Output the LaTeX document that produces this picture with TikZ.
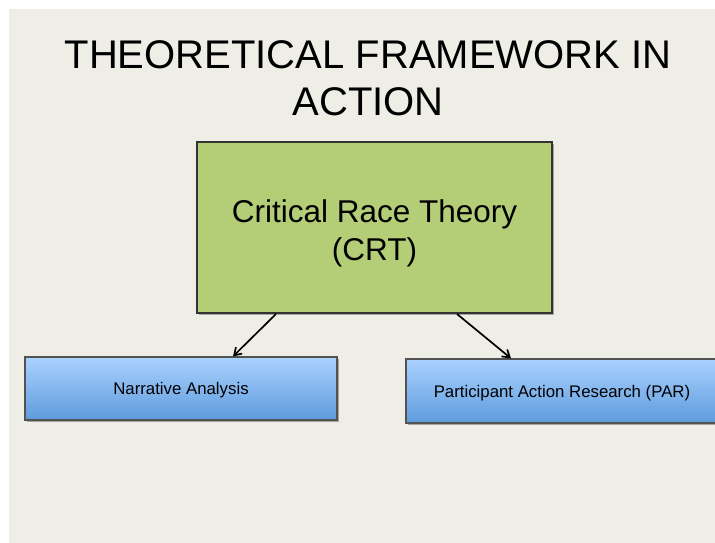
\documentclass[tikz,border=0pt]{standalone}
\usepackage{fontspec}
\setmainfont{Liberation Sans}
\usetikzlibrary{shadows,arrows.meta}
\definecolor{bgbeige}{HTML}{EFEEE6}
\definecolor{crtgreen}{HTML}{B4CE78}
\definecolor{bluetop}{HTML}{AAD2FF}
\definecolor{bluebot}{HTML}{5E9BDC}
\definecolor{edgegray}{HTML}{333333}
\tikzset{
  crtbox/.style={draw=edgegray, line width=2pt, fill=crtgreen, rectangle,
    minimum width=355pt, minimum height=171pt, inner sep=0pt, align=center,
    font=\fontsize{31.5}{38}\selectfont, text height=65pt, text depth=0pt,
    drop shadow={shadow xshift=1.5pt, shadow yshift=-1.5pt, opacity=0.3, fill=black}},
  methodbox/.style={draw=edgegray!85, line width=1.2pt, rectangle,
    top color=bluetop, bottom color=bluebot,
    minimum width=312pt, minimum height=63pt, inner sep=0pt,
    font=\fontsize{16.8}{20}\selectfont, text depth=0pt,
    drop shadow={shadow xshift=1.5pt, shadow yshift=-2pt, opacity=0.3, fill=black}},
  linkarrow/.style={-{Straight Barb[length=7pt,width=9pt]}, line width=1.7pt, black}
}
\begin{document}
\begin{tikzpicture}[x=1pt,y=-1pt]
\useasboundingbox (0,0) rectangle (715,543);
\fill[white] (0,0) rectangle (715,543);
\fill[bgbeige] (9,9) rectangle (715,543);
\node[inner sep=0pt, align=center, font=\fontsize{40}{47}\selectfont] (title) at (368,78)
  {THEORETICAL FRAMEWORK IN\\ACTION};
\node[crtbox] (crt) at (374.5,227.5) {Critical Race Theory\\(CRT)};
\node[methodbox] (na) at (181,388.5) {Narrative Analysis};
\node[methodbox, minimum height=64pt] (par) at (562,391) {Participant Action Research (PAR)};
\draw[linkarrow] ([xshift=-98.5pt]crt.south) -- ([xshift=52pt]na.north);
\draw[linkarrow] ([xshift=82.5pt]crt.south) -- ([xshift=-51pt]par.north);
\end{tikzpicture}
\end{document}
